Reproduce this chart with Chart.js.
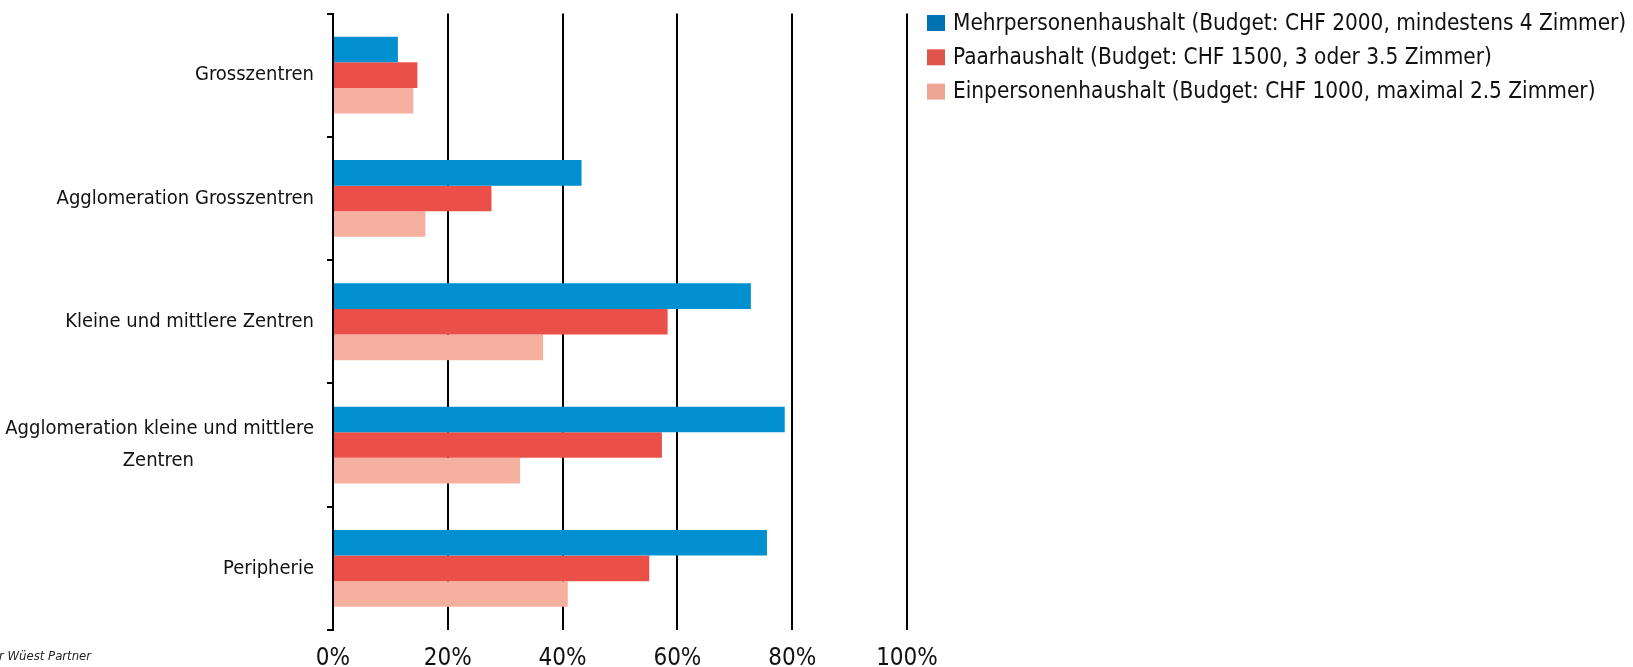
<!DOCTYPE html>
<html>
<head>
<meta charset="utf-8">
<script src="https://cdn.jsdelivr.net/npm/chart.js@4.4.1/dist/chart.umd.min.js"></script>
<style>
  html, body { margin: 0; padding: 0; background: #fff; }
  #wrap { width: 1633px; height: 667px; position: relative; }
</style>
</head>
<body>
<div id="wrap"><canvas id="chart"></canvas></div>
<script>
// data (share in %)
const categories = [
  "Grosszentren",
  "Agglomeration Grosszentren",
  "Kleine und mittlere Zentren",
  ["Agglomeration kleine und mittlere", "Zentren"],
  "Peripherie"
];
const seriesNames = [
  "Mehrpersonenhaushalt (Budget: CHF 2000, mindestens 4 Zimmer)",
  "Paarhaushalt (Budget: CHF 1500, 3 oder 3.5 Zimmer)",
  "Einpersonenhaushalt (Budget: CHF 1000, maximal 2.5 Zimmer)"
];
const mehrpersonen = [11.3, 43.3, 72.8, 78.7, 75.6];
const paar = [14.7, 27.6, 58.3, 57.3, 55.1];
const einpersonen = [14.0, 16.1, 36.6, 32.6, 40.9];
const xTicks = [0, 20, 40, 60, 80, 100];
const sourceText = "r Wüest Partner";

const FONT = "'Liberation Sans Narrow', 'DejaVu Sans Condensed', sans-serif";
const barColors = ["#0090d0", "#eb5048", "#f5b09f"];
const legendColors = ["#0072b4", "#e0554b", "#efa593"];
const Y_SIZE = 20;

// legend on the right + cut-off source note, drawn after the chart
const sideLegend = {
  id: "sideLegend",
  afterDraw(chart) {
    const ctx = chart.ctx;
    ctx.save();
    ctx.textAlign = "left";
    ctx.textBaseline = "middle";
    ctx.font = "22.4px " + FONT;
    chart.data.datasets.forEach((ds, i) => {
      const y = 23 + i * 34.3;
      ctx.fillStyle = legendColors[i];
      ctx.fillRect(927, y - 8, 18, 16);
      ctx.fillStyle = "#111";
      ctx.fillText(ds.label, 953, y + 1);
    });
    ctx.font = "italic 13px " + FONT;
    ctx.fillStyle = "#222";
    ctx.fillText(sourceText, -1, 657);
    ctx.restore();
  }
};

const ctx = document.getElementById("chart").getContext("2d");

new Chart(ctx, {
  type: "bar",
  data: {
    labels: categories,
    datasets: [
      { label: seriesNames[0], data: mehrpersonen, backgroundColor: barColors[0] },
      { label: seriesNames[1], data: paar, backgroundColor: barColors[1] },
      { label: seriesNames[2], data: einpersonen, backgroundColor: barColors[2] }
    ]
  },
  options: {
    indexAxis: "y",
    responsive: true,
    maintainAspectRatio: false,
    animation: false,
    categoryPercentage: 0.623,
    barPercentage: 1.0,
    layout: { padding: { top: 0, right: 726, left: 0, bottom: 0 } },
    plugins: {
      legend: { display: false },
      tooltip: { enabled: false }
    },
    scales: {
      x: {
        min: 0,
        max: 100,
        afterBuildTicks: s => { s.ticks = xTicks.map(v => ({ value: v })); },
        afterFit: s => { s.height = 37; },
        border: { display: false },
        grid: { color: "#000", lineWidth: 2, drawTicks: false },
        ticks: {
          padding: 14,
          color: "#111",
          font: { family: FONT, size: 24 },
          callback: v => v + "%"
        }
      },
      y: {
        afterFit: s => { s.width = 333; s.paddingTop = 13.5; s.paddingBottom = 0; },
        border: { display: true, color: "#000", width: 2 },
        grid: { drawOnChartArea: false, drawTicks: true, tickLength: 6, color: "#000", lineWidth: 2 },
        ticks: {
          padding: 13,
          color: "#111",
          font: { family: FONT, size: Y_SIZE, lineHeight: 1.6 },
          callback: function (value) {
            const lbl = this.getLabelForValue(value);
            if (!Array.isArray(lbl)) return lbl;
            // centre the wrapped lines on each other while keeping the block right-aligned
            const c = this.chart.ctx;
            c.save();
            c.font = Y_SIZE + "px " + FONT;
            const w = lbl.map(l => c.measureText(l).width);
            const max = Math.max(...w);
            const sp = c.measureText(" ").width;
            c.restore();
            return lbl.map((l, k) => l + " ".repeat(Math.round((max - w[k]) / 2 / sp)));
          }
        }
      }
    }
  },
  plugins: [sideLegend]
});
</script>
</body>
</html>
